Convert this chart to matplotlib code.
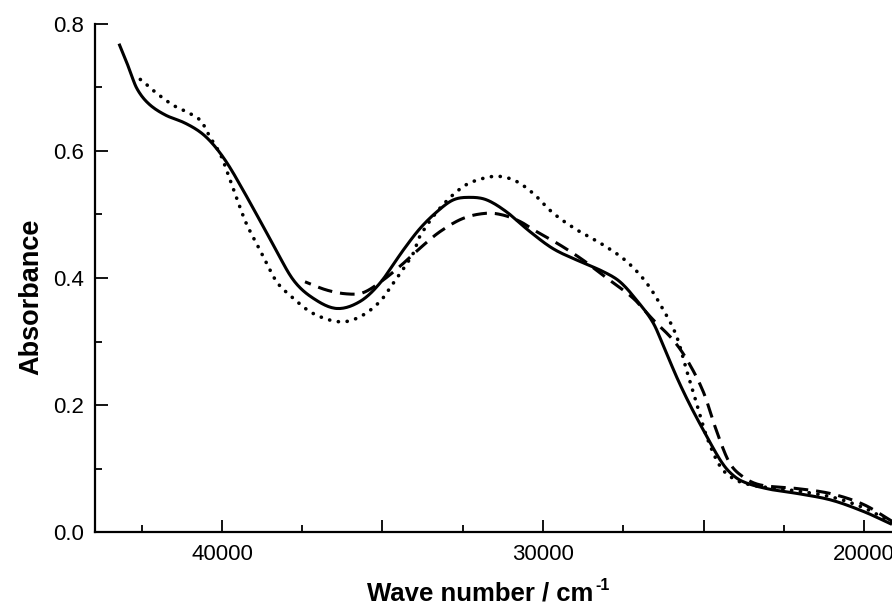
import numpy as np
import matplotlib
matplotlib.use("Agg")
import matplotlib.pyplot as plt
from matplotlib.ticker import MultipleLocator, FuncFormatter

# ---- data (wavenumber in cm-1, absorbance) ----
solid_x = [43208, 42918, 42657, 42296, 41776, 41153, 40632, 40218, 39803, 39284,
           38661, 38402, 37779, 37156, 36427, 35701, 35078, 34352, 33832, 33312,
           32795, 32275, 31755, 31132, 30406, 29680, 28848, 28122, 27602, 27082,
           26565, 26200, 25800, 25420, 25000, 24500, 24200, 23800, 23000, 22000,
           21000, 20000, 19130]
solid_y = [0.769, 0.733, 0.699, 0.675, 0.657, 0.644, 0.628, 0.607, 0.578, 0.533,
           0.476, 0.452, 0.397, 0.368, 0.352, 0.363, 0.392, 0.444, 0.478, 0.504,
           0.523, 0.527, 0.523, 0.504, 0.473, 0.446, 0.426, 0.410, 0.394, 0.365,
           0.329, 0.287, 0.240, 0.200, 0.160, 0.115, 0.095, 0.080, 0.068, 0.060,
           0.050, 0.032, 0.012]

dot_x = [42732, 42451, 42035, 41517, 40997, 40632, 40374, 40062, 39854, 39648,
         39386, 39199, 38713, 38296, 37779, 37156, 36324, 35701, 35078, 34664,
         34041, 33832, 33209, 32483, 31860, 31340, 30820, 30302, 29680, 28950,
         28122, 27393, 26770, 26253, 25837, 25500, 25200, 24900, 24500, 24100,
         23600, 23000, 22000, 21000, 20000, 19130]
dot_y = [0.720, 0.709, 0.691, 0.672, 0.659, 0.646, 0.622, 0.596, 0.570, 0.541,
         0.504, 0.481, 0.434, 0.394, 0.368, 0.344, 0.331, 0.339, 0.363, 0.392,
         0.439, 0.466, 0.510, 0.544, 0.557, 0.560, 0.552, 0.533, 0.502, 0.476,
         0.452, 0.426, 0.392, 0.350, 0.308, 0.250, 0.200, 0.150, 0.105, 0.085,
         0.075, 0.070, 0.064, 0.055, 0.038, 0.015]

dash_x = [37414, 36739, 36116, 35598, 34975, 34352, 33832, 33209, 32483, 31755,
          31237, 30717, 30197, 29471, 28746, 28016, 27188, 26565, 25942, 25500,
          25000, 24600, 24200, 23800, 23300, 22500, 22000, 21000, 20000, 19130]
dash_y = [0.394, 0.381, 0.375, 0.377, 0.397, 0.423, 0.447, 0.473, 0.494, 0.502,
          0.499, 0.489, 0.473, 0.452, 0.428, 0.400, 0.368, 0.334, 0.302, 0.270,
          0.220, 0.160, 0.110, 0.088, 0.075, 0.070, 0.068, 0.060, 0.043, 0.017]

x_ticklabels = {40000: "40000", 30000: "30000", 20000: "20000"}
y_ticks = [0.0, 0.2, 0.4, 0.6, 0.8]


def smooth(x, y, n=14):
    """Cubic Hermite spline with centred-difference tangents through the points."""
    x = np.asarray(x, float)[::-1]
    y = np.asarray(y, float)[::-1]
    h = np.diff(x)
    d = np.diff(y) / h
    m = np.empty_like(y)
    m[0], m[-1] = d[0], d[-1]
    m[1:-1] = (y[2:] - y[:-2]) / (x[2:] - x[:-2])
    xs, ys = [], []
    for i in range(len(x) - 1):
        t = np.linspace(0, 1, n, endpoint=False)
        h00 = 2 * t**3 - 3 * t**2 + 1
        h10 = t**3 - 2 * t**2 + t
        h01 = -2 * t**3 + 3 * t**2
        h11 = t**3 - t**2
        xs.append(x[i] + t * h[i])
        ys.append(h00 * y[i] + h10 * h[i] * m[i] + h01 * y[i + 1] + h11 * h[i] * m[i + 1])
    xs.append([x[-1]])
    ys.append([y[-1]])
    return np.concatenate(xs), np.concatenate(ys)


plt.rcParams['font.family'] = ['Liberation Sans', 'DejaVu Sans']

fig = plt.figure(figsize=(8.92, 6.05), dpi=100)
ax = fig.add_axes([95 / 892, 73 / 605, 1 - 95 / 892, (532 - 24) / 605])

sx, sy = smooth(solid_x, solid_y)
ax.plot(sx, sy, color='black', lw=2.2, solid_capstyle='butt')
px, py = smooth(dot_x, dot_y)
ax.plot(px, py, color='black', lw=2.6, linestyle=(0, (0.05, 2.4)),
        dash_capstyle='round')
qx, qy = smooth(dash_x, dash_y)
ax.plot(qx, qy, color='black', lw=2.2, linestyle=(0, (4.8, 2.6)),
        dash_capstyle='butt')

ax.set_xlim(43956, 19128)
ax.set_ylim(0, 0.8)

ax.spines['top'].set_visible(False)
ax.spines['right'].set_visible(False)
ax.spines['left'].set_linewidth(1.6)
ax.spines['bottom'].set_linewidth(1.6)

ax.xaxis.set_major_locator(MultipleLocator(5000))
ax.xaxis.set_minor_locator(MultipleLocator(2500))
ax.xaxis.set_major_formatter(
    FuncFormatter(lambda v, p: x_ticklabels.get(int(round(v)), "")))
ax.set_yticks(y_ticks)
ax.set_yticklabels([f"{v:.1f}" for v in y_ticks])
ax.yaxis.set_minor_locator(MultipleLocator(0.1))

ax.tick_params(which='both', direction='in', width=1.3, labelsize=16)
ax.tick_params(which='major', length=9)
ax.tick_params(which='minor', length=5)
ax.tick_params(axis='x', pad=9)
ax.tick_params(axis='y', pad=8)

# x label: main part + small superscript "-1"
xl = ax.set_xlabel("Wave number / cm", fontsize=18.5, fontweight='bold')
ax.xaxis.set_label_coords((480 - 95) / 797, -0.098)
fig.canvas.draw()
bb = xl.get_window_extent()
fig.text((bb.x1 + 2) / fig.bbox.width, (bb.y0 + 0.55 * bb.height) / fig.bbox.height,
         "-1", fontsize=11.5, fontweight='bold', ha='left', va='bottom')

ax.set_ylabel("Absorbance", fontsize=19.5, fontweight='bold')
ax.yaxis.set_label_coords(-0.063, (532 - 297) / 508)

fig.savefig("out.png", dpi=100)
